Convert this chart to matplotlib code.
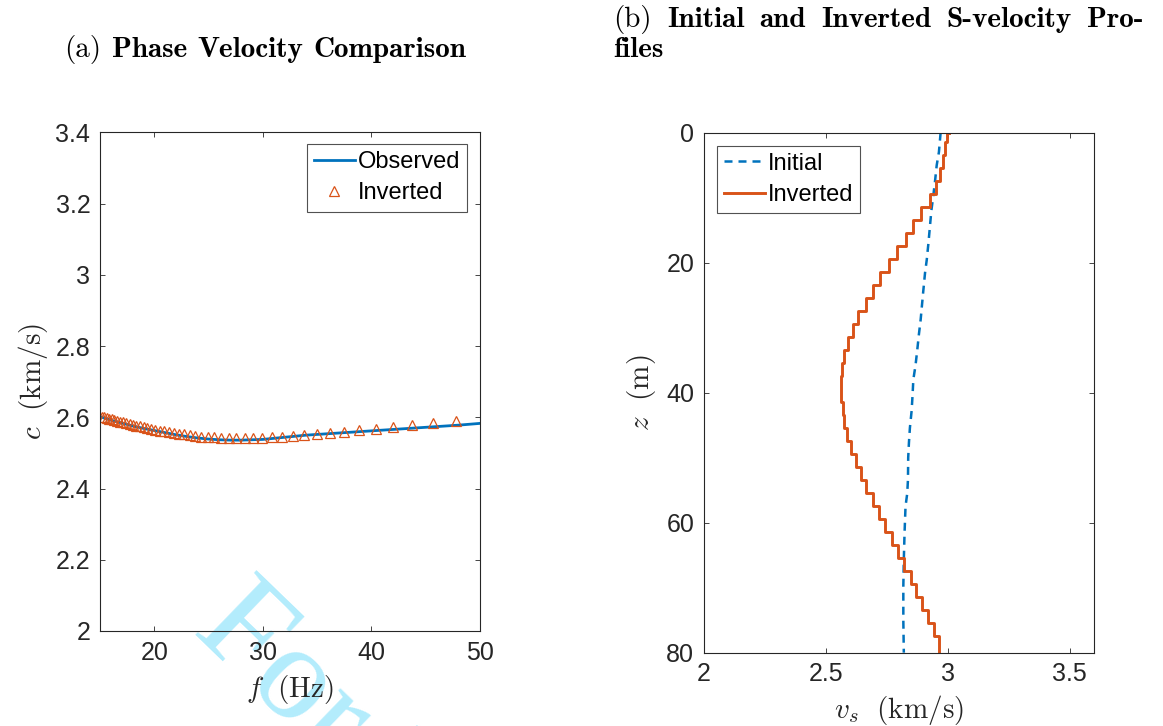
import numpy as np
import matplotlib
matplotlib.use("Agg")
import matplotlib.pyplot as plt
from matplotlib.ticker import FormatStrFormatter

BLUE, ORANGE, AXC = "#0072BD", "#D95319", "#262626"

# (a) observed dispersion curve
f_obs = [15, 16, 17, 18, 19, 20, 21, 22, 23, 24, 25, 26, 27, 28, 29, 30,
         31, 32, 33, 34, 36, 38, 40, 42, 44, 46, 48, 50]
c_obs = [2.602, 2.592, 2.584, 2.576, 2.569, 2.563, 2.557, 2.551, 2.546, 2.542,
         2.539, 2.537, 2.536, 2.536, 2.537, 2.538, 2.541, 2.544, 2.547, 2.550,
         2.554, 2.558, 2.562, 2.566, 2.570, 2.574, 2.578, 2.583]

# (a) inverted dispersion points
f_inv = [47.80, 45.70, 43.78, 42.02, 40.39, 38.88, 37.48, 36.18, 34.97, 33.83,
         32.77, 31.77, 30.83, 29.94, 29.10, 28.31, 27.56, 26.85, 26.18, 25.54,
         24.93, 24.34, 23.79, 23.26, 22.75, 22.26, 21.80, 21.35, 20.92, 20.51,
         20.11, 19.73, 19.36, 19.01, 18.67, 18.34, 18.02, 17.72, 17.42, 17.14,
         16.86, 16.59, 16.33, 16.08, 15.83, 15.60, 15.37, 15.14]
c_inv = [2.589, 2.584, 2.579, 2.573, 2.568, 2.564, 2.560, 2.556, 2.553, 2.550,
         2.548, 2.546, 2.545, 2.543, 2.542, 2.542, 2.542, 2.542, 2.543, 2.544,
         2.545, 2.546, 2.548, 2.550, 2.552, 2.554, 2.556, 2.558, 2.561, 2.563,
         2.565, 2.567, 2.570, 2.572, 2.575, 2.577, 2.579, 2.581, 2.584, 2.586,
         2.588, 2.590, 2.592, 2.594, 2.596, 2.598, 2.600, 2.602]

# (b) initial S-velocity profile
z_init = [0, 3, 5, 7.5, 10, 12, 14.5, 17, 19.6, 21.6, 24.7, 28.8, 31, 33.5, 35.8,
          38, 40.3, 42.8, 45.4, 47.7, 50, 53.4, 55.5, 57.5, 61.6, 65.7, 69.8, 75, 80]
v_init = [2.971, 2.964, 2.955, 2.948, 2.940, 2.933, 2.927, 2.921, 2.914, 2.907,
          2.899, 2.889, 2.882, 2.875, 2.868, 2.859, 2.856, 2.852, 2.845, 2.841,
          2.838, 2.837, 2.834, 2.827, 2.823, 2.820, 2.818, 2.818, 2.820]

# (b) inverted layered model: layer tops (m) and velocities (km/s)
z_top = [0, 1.5, 3.5, 5.5, 7.5, 9.5, 11.5, 13.5, 15.5, 17.5, 19.5, 21.5, 23.5,
         25.5, 27.5, 29.5, 31.5, 33.5, 35.5, 37.5, 39.5, 41.5, 43.5, 45.5, 47.5,
         49.5, 51.5, 53.5, 55.5, 57.5, 59.5, 61.5, 63.5, 65.5, 67.5, 69.5, 71.5,
         73.5, 75.5, 77.5, 79.5]
v_layer = [3.005, 2.996, 2.990, 2.981, 2.968, 2.951, 2.927, 2.889, 2.859, 2.827,
           2.793, 2.761, 2.724, 2.693, 2.663, 2.634, 2.610, 2.591, 2.576, 2.567,
           2.564, 2.564, 2.570, 2.576, 2.587, 2.605, 2.624, 2.645, 2.665, 2.693,
           2.720, 2.742, 2.770, 2.796, 2.820, 2.848, 2.872, 2.896, 2.920, 2.944,
           2.964]
z_bottom = 80

plt.rcParams["font.family"] = "Liberation Sans"
plt.rcParams["mathtext.fontset"] = "cm"

W, H = 1163, 726
fig = plt.figure(figsize=(W / 100, H / 100), dpi=100)

# faint review watermark behind everything
fig.text(0.164, 0.131, "For Review Only", family="Liberation Serif", fontsize=98,
         color="#b3ecfc", rotation=-44, rotation_mode="anchor",
         ha="left", va="baseline", zorder=-5)


def style(ax):
    ax.patch.set_visible(False)
    for sp in ax.spines.values():
        sp.set_color(AXC)
        sp.set_linewidth(0.8)
    ax.tick_params(direction="in", length=3.6, width=0.6, color=AXC,
                   labelsize=18, labelcolor=AXC, top=True, right=True, pad=7)


def add_legend(ax, loc, anchor):
    leg = ax.legend(loc=loc, bbox_to_anchor=anchor, fontsize=17,
                    frameon=True, fancybox=False, edgecolor=AXC, handlelength=1.75,
                    handletextpad=0.1, borderpad=0.3, labelspacing=0.4,
                    borderaxespad=0)
    leg.get_frame().set_linewidth(0.8)


# ---- (a) phase velocity
ax1 = fig.add_axes([0.0860, 0.1309, 0.3267, 0.6866])
style(ax1)
ax1.plot(f_obs, c_obs, color=BLUE, lw=2.0, label="Observed")
ax1.plot(f_inv, c_inv, ls="none", marker="^", ms=7, mfc="none", mec=ORANGE,
         mew=0.9, label="Inverted")
ax1.set_xlim(15, 50)
ax1.set_ylim(2, 3.4)
ax1.set_xticks([20, 30, 40, 50])
ax1.set_yticks(np.arange(2, 3.41, 0.2))
ax1.yaxis.set_major_formatter(FormatStrFormatter("%g"))
ax1.set_xlabel(r"$f\ \ (\mathrm{Hz})$", fontsize=21, color=AXC, labelpad=6)
ax1.set_ylabel(r"$c\ \ (\mathrm{km/s})$", fontsize=21, color=AXC, labelpad=4)
add_legend(ax1, "upper right", (0.966, 0.977))

# ---- (b) S-velocity profiles
ax2 = fig.add_axes([0.6053, 0.1010, 0.3353, 0.7163])
style(ax2)
ax2.plot(v_init, z_init, color=BLUE, lw=1.8, ls=(0, (3.2, 2.4)), label="Initial")
zz = z_top + [z_bottom]
vv = v_layer + [v_layer[-1]]
ax2.step(vv, zz, where="post", color=ORANGE, lw=2.1, label="Inverted")
ax2.set_xlim(2, 3.6)
ax2.set_ylim(80, 0)
ax2.set_xticks([2, 2.5, 3, 3.5])
ax2.set_yticks([0, 20, 40, 60, 80])
ax2.xaxis.set_major_formatter(FormatStrFormatter("%g"))
ax2.set_xlabel(r"$v_s\ \ (\mathrm{km/s})$", fontsize=21, color=AXC, labelpad=5)
ax2.set_ylabel(r"$z\ \ (\mathrm{m})$", fontsize=21, color=AXC, labelpad=6)
add_legend(ax2, "upper left", (0.033, 0.975))

# ---- sub-figure captions (LaTeX-like, second caption justified over its width)
CAP = 21
renderer = fig.canvas.get_renderer()


def caption_line(x0, x1, y, words, fonts):
    arts = [fig.text(0, 1 - y / H, w, family=fm, fontsize=CAP, va="center")
            for w, fm in zip(words, fonts)]
    widths = [a.get_window_extent(renderer).width for a in arts]
    if x1 is None:
        gap = 0.36 * CAP * 100 / 72
    else:
        gap = (x1 - x0 - sum(widths)) / (len(words) - 1)
    x = x0
    for a, wd in zip(arts, widths):
        a.set_x(x / W)
        x += wd + gap


caption_line(64, None, 50, ["(a)", "Phase", "Velocity", "Comparison"],
             ["cmr10", "cmb10", "cmb10", "cmb10"])
caption_line(613, 1143, 20,
             ["(b)", "Initial", "and", "Inverted", "S-velocity", "Pro-"],
             ["cmr10"] + ["cmb10"] * 5)
caption_line(613, None, 50, ["files"], ["cmb10"])

fig.savefig("out.png", dpi=100)
